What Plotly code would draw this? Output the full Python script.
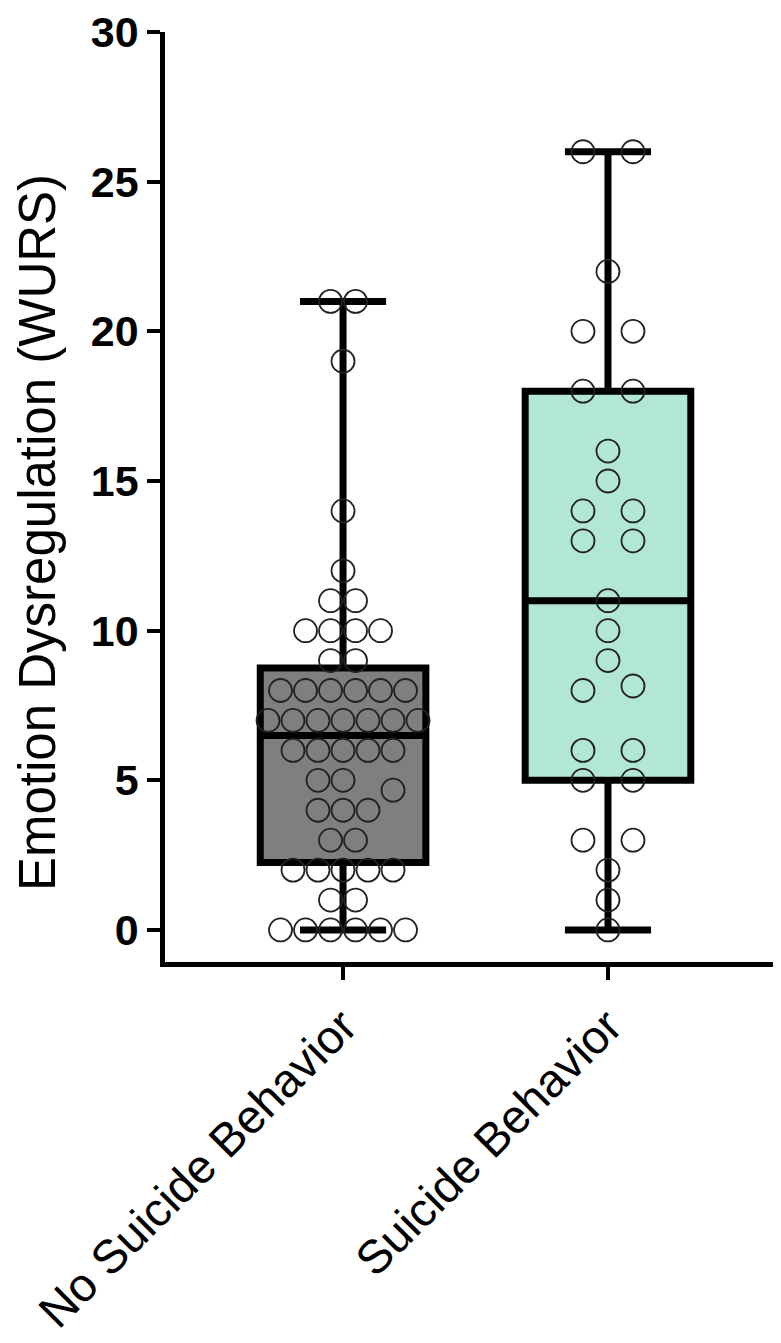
import numpy as np
import plotly.graph_objects as go

# ---------------- data ----------------
categories = ["No Suicide Behavior", "Suicide Behavior"]
no_suicide_values = [21, 21, 19, 14, 12, 11, 11, 10, 10, 10, 10, 9, 9,
                     8, 8, 8, 8, 8, 8, 7, 7, 7, 7, 7, 7, 7,
                     6, 6, 6, 6, 6, 5, 5, 4.67, 4, 4, 4, 3, 3,
                     2, 2, 2, 2, 2, 1, 1, 0, 0, 0, 0, 0, 0]
suicide_values = [26, 26, 22, 20, 20, 18, 18, 16, 15, 14, 14, 13, 13,
                  11, 10, 9, 8.15, 8, 6, 6, 5, 5, 3, 3, 2, 1, 0]
y_tick_values = [0, 5, 10, 15, 20, 25, 30]
y_title = "Emotion Dysregulation (WURS)"

groups = [no_suicide_values, suicide_values]
fill_colors = ["#7f7f7f", "#b3e7d5"]

# ---------------- layout helpers ----------------
# page body has an 8px margin, so the figure is drawn 8px in from the corner
W, H = 773, 1335
M_L, M_R, M_T, M_B = 157, 0, 24, 381
X_RANGE = [-0.672, 1.653]
Y_RANGE = [-1.07, 30]
px_per_x = (W - M_L - M_R) / (X_RANGE[1] - X_RANGE[0])
px_per_y = (H - M_T - M_B) / (Y_RANGE[1] - Y_RANGE[0])
DOT = 24  # marker diameter in px
row_spacing_px = [25, 50]  # horizontal gap between dots in a row, per group
FONT = "Liberation Sans, Arial, sans-serif"


def swarm(values, center, spacing_px):
    """Arrange points in rows (rounded value), centred, resolving overlaps."""
    vals = np.asarray(values, dtype=float)
    keys = np.round(vals)
    placed = []
    xs = np.zeros(len(vals))
    for key in sorted(set(keys)):
        idx = [i for i in range(len(vals)) if keys[i] == key]
        idx.sort(key=lambda i: abs(vals[i] - key))
        k = len(idx)
        for j, i in enumerate(idx):
            off = (j - (k - 1) / 2) * spacing_px
            y = vals[i] * px_per_y
            direction = 1 if off >= 0 else -1
            while any(np.hypot(off - px, y - py) < DOT * 0.85 for px, py in placed):
                off += direction * 25
            placed.append((off, y))
            xs[i] = center + off / px_per_x
    return xs, vals


fig = go.Figure()

for gi, vals in enumerate(groups):
    arr = np.asarray(vals, dtype=float)
    q1, med, q3 = np.percentile(arr, [25, 50, 75], method="weibull")
    fig.add_trace(go.Box(
        x=[gi], q1=[q1], median=[med], q3=[q3],
        lowerfence=[arr.min()], upperfence=[arr.max()],
        width=0.625, whiskerwidth=0.52,
        fillcolor=fill_colors[gi],
        line=dict(color="black", width=7),
        showlegend=False, hoverinfo="skip",
    ))

for gi, vals in enumerate(groups):
    xs, ys = swarm(vals, gi, row_spacing_px[gi])
    fig.add_trace(go.Scatter(
        x=xs, y=ys, mode="markers",
        marker=dict(symbol="circle", size=DOT - 1, color="rgba(0,0,0,0)",
                    line=dict(color="#222222", width=1.8)),
        showlegend=False, hoverinfo="skip",
    ))

fig.add_annotation(
    text=y_title, xref="paper", yref="paper",
    x=(37 - 165) / (W - M_L - M_R), y=(962 - 533) / (H - M_T - M_B),
    xanchor="center", yanchor="middle", textangle=-90, showarrow=False,
    font=dict(size=51, family=FONT, color="black"),
)

fig.update_layout(
    width=W, height=H,
    margin=dict(l=M_L, r=M_R, t=M_T, b=M_B, pad=0, autoexpand=False),
    paper_bgcolor="white", plot_bgcolor="white",
    font=dict(family=FONT, color="black"),
    xaxis=dict(
        range=X_RANGE, tickmode="array", tickvals=[0, 1], ticktext=categories,
        tickangle=-45, ticks="outside", ticklen=13, tickwidth=4,
        tickcolor="black", showline=True, linewidth=4.5, linecolor="black",
        showgrid=False, zeroline=False, automargin=False,
        tickfont=dict(size=47, family=FONT),
    ),
    yaxis=dict(
        range=Y_RANGE, tickmode="array", tickvals=y_tick_values,
        ticks="outside", ticklen=13, tickwidth=4, tickcolor="black",
        showline=True, linewidth=4.5, linecolor="black",
        showgrid=False, zeroline=False, automargin=False,
        tickfont=dict(size=43, weight="bold", family=FONT),
    ),
)

fig.write_html("out.html")
